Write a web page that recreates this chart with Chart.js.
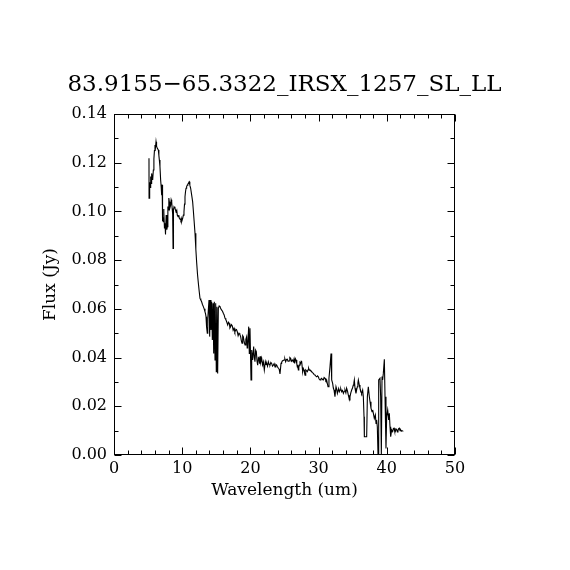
<!DOCTYPE html>
<html>
<head>
<meta charset="utf-8">
<title>83.9155-65.3322_IRSX_1257_SL_LL</title>
<script src="https://cdn.jsdelivr.net/npm/chart.js@4"></script>
<style>
    body { margin: 0; background: #fff; }
</style>
</head>
<body>
<canvas id="spectrum" width="570" height="570"></canvas>
<script>
// IRS spectrum (SL + LL) — flux vs wavelength

const titleText = '83.9155\u221265.3322_IRSX_1257_SL_LL';
const xLabel = 'Wavelength (um)';
const yLabel = 'Flux (Jy)';

const xTickValues = [0, 10, 20, 30, 40, 50];
const yTickValues = [0, 0.02, 0.04, 0.06, 0.08, 0.10, 0.12, 0.14];

// wavelength (um)
const wavelength = [
    5.13, 5.14, 5.20, 5.26, 5.32, 5.38, 5.45, 5.52, 5.60, 5.67,
    5.77, 5.85, 5.93, 6.01, 6.08, 6.16, 6.24, 6.35, 6.50, 6.58,
    6.65, 6.74, 6.84, 6.92, 6.99, 7.06, 7.10, 7.14, 7.23, 7.28,
    7.33, 7.40, 7.48, 7.53, 7.58, 7.65, 7.72, 7.77, 7.82, 7.90,
    7.97, 8.04, 8.11, 8.20, 8.31, 8.38, 8.46, 8.53, 8.60, 8.66,
    8.72, 8.80, 8.94, 9.09, 9.20, 9.28, 9.40, 9.50, 9.58, 9.68,
    9.77, 9.85, 9.92, 10.07, 10.17, 10.26, 10.34, 10.41, 10.48, 10.56,
    10.65, 10.75, 10.83, 10.90, 10.97, 11.04, 11.10, 11.14, 11.24, 11.39,
    11.53, 11.63, 11.75, 11.88, 12.00, 12.12, 12.25, 12.37, 12.50, 12.61,
    12.73, 12.85, 12.97, 13.10, 13.22, 13.34, 13.42, 13.49, 13.55, 13.59,
    13.68, 13.75, 13.83, 13.93, 14.03, 14.12, 14.22, 14.32, 14.42, 14.52,
    14.62, 14.71, 14.81, 14.91, 15.00, 15.10, 15.20, 15.30, 15.42, 15.54,
    15.66, 15.79, 15.91, 16.03, 16.15, 16.28, 16.40, 16.52, 16.67, 16.79,
    16.91, 17.00, 17.10, 17.22, 17.35, 17.47, 17.60, 17.72, 17.84, 17.96,
    18.08, 18.20, 18.33, 18.45, 18.57, 18.67, 18.77, 18.87, 18.96, 19.08,
    19.21, 19.33, 19.45, 19.53, 19.60, 19.75, 19.84, 19.94, 20.09, 20.19,
    20.33, 20.48, 20.58, 20.67, 20.77, 20.87, 20.97, 21.07, 21.17, 21.26,
    21.35, 21.41, 21.50, 21.65, 21.78, 21.90, 22.04, 22.19, 22.29, 22.39,
    22.51, 22.63, 22.75, 22.87, 23.00, 23.12, 23.24, 23.36, 23.48, 23.61,
    23.73, 23.85, 23.97, 24.10, 24.22, 24.34, 24.49, 24.58, 24.68, 24.80,
    24.93, 25.05, 25.17, 25.29, 25.41, 25.53, 25.66, 25.78, 25.90, 26.02,
    26.15, 26.29, 26.40, 26.49, 26.60, 26.69, 26.80, 26.88, 26.95, 27.03,
    27.10, 27.17, 27.27, 27.37, 27.45, 27.52, 27.60, 27.66, 27.76, 27.86,
    27.93, 28.01, 28.08, 28.15, 28.25, 28.35, 28.45, 28.54, 28.64, 28.74,
    28.86, 28.98, 29.10, 29.23, 29.35, 29.47, 29.60, 29.72, 29.84, 29.96,
    30.08, 30.21, 30.33, 30.45, 30.57, 30.69, 30.81, 30.94, 31.06, 31.18,
    31.38, 31.52, 31.67, 31.82, 31.92, 32.06, 32.16, 32.26, 32.40, 32.55,
    32.65, 32.75, 32.94, 33.04, 33.14, 33.25, 33.38, 33.50, 33.63, 33.75,
    33.87, 34.00, 34.11, 34.24, 34.36, 34.45, 34.51, 34.60, 34.72, 34.85,
    34.97, 35.09, 35.17, 35.24, 35.34, 35.48, 35.58, 35.68, 35.76, 35.83,
    35.97, 36.07, 36.22, 36.31, 36.46, 36.56, 36.66, 36.71, 36.88, 37.05,
    37.15, 37.29, 37.44, 37.54, 37.68, 37.83, 37.93, 38.03, 38.17, 38.32,
    38.42, 38.51, 38.61, 38.71, 38.81, 39.00, 39.10, 39.20, 39.30, 39.39,
    39.49, 39.64, 39.74, 39.88, 39.98, 40.13, 40.27, 40.37, 40.47, 40.57,
    40.71, 40.86, 40.96, 41.06, 41.15, 41.25, 41.35, 41.45, 41.55, 41.64,
    41.74, 41.84, 41.94, 42.03, 42.13, 42.23, 42.42
];

// flux (Jy)
const flux = [
    0.1218, 0.1054, 0.1080, 0.1120, 0.1098, 0.1143, 0.1115, 0.1156, 0.1140, 0.1129,
    0.1170, 0.1215, 0.1250, 0.1273, 0.1262, 0.1286, 0.1268, 0.1259, 0.1252, 0.1230,
    0.1211, 0.1184, 0.1129, 0.1100, 0.1067, 0.1110, 0.0960, 0.0978, 0.0958, 0.1010,
    0.0999, 0.0930, 0.0951, 0.0905, 0.0910, 0.0985, 0.0978, 0.0925, 0.0937, 0.1020,
    0.1006, 0.1055, 0.1040, 0.1015, 0.1026, 0.1048, 0.1040, 0.1012, 0.0990, 0.0848,
    0.1005, 0.1019, 0.1013, 0.0999, 0.1005, 0.0985, 0.0978, 0.0985, 0.0972, 0.0968,
    0.0965, 0.0972, 0.0958, 0.0972, 0.0985, 0.0999, 0.1030, 0.1060, 0.1080, 0.1095,
    0.1102, 0.1108, 0.1112, 0.1115, 0.1120, 0.1122, 0.1112, 0.1108, 0.1095, 0.1067,
    0.1040, 0.1005, 0.0960, 0.0910, 0.0845, 0.0790, 0.0740, 0.0705, 0.0670, 0.0643,
    0.0636, 0.0629, 0.0618, 0.0609, 0.0600, 0.0588, 0.0580, 0.0568, 0.0545, 0.0527,
    0.0500, 0.0560, 0.0595, 0.0636, 0.0486, 0.0636, 0.0513, 0.0629, 0.0472, 0.0623,
    0.0417, 0.0629, 0.0390, 0.0623, 0.0342, 0.0609, 0.0335, 0.0602, 0.0612, 0.0609,
    0.0600, 0.0595, 0.0590, 0.0582, 0.0575, 0.0561, 0.0556, 0.0547, 0.0534, 0.0545,
    0.0540, 0.0522, 0.0527, 0.0535, 0.0530, 0.0512, 0.0520, 0.0505, 0.0513, 0.0515,
    0.0506, 0.0490, 0.0500, 0.0495, 0.0486, 0.0470, 0.0459, 0.0490, 0.0486, 0.0465,
    0.0452, 0.0475, 0.0486, 0.0440, 0.0445, 0.0527, 0.0417, 0.0520, 0.0308, 0.0431,
    0.0390, 0.0445, 0.0400, 0.0383, 0.0430, 0.0424, 0.0385, 0.0369, 0.0400, 0.0397,
    0.0375, 0.0405, 0.0380, 0.0397, 0.0370, 0.0383, 0.0349, 0.0383, 0.0372, 0.0376,
    0.0365, 0.0383, 0.0372, 0.0369, 0.0380, 0.0376, 0.0365, 0.0369, 0.0375, 0.0362,
    0.0372, 0.0369, 0.0362, 0.0356, 0.0352, 0.0333, 0.0376, 0.0380, 0.0386, 0.0388,
    0.0390, 0.0395, 0.0383, 0.0392, 0.0393, 0.0385, 0.0386, 0.0400, 0.0397, 0.0385,
    0.0390, 0.0383, 0.0395, 0.0376, 0.0395, 0.0390, 0.0375, 0.0362, 0.0370, 0.0349,
    0.0360, 0.0369, 0.0380, 0.0376, 0.0385, 0.0383, 0.0360, 0.0342, 0.0355, 0.0349,
    0.0338, 0.0328, 0.0342, 0.0349, 0.0345, 0.0342, 0.0350, 0.0356, 0.0348, 0.0349,
    0.0345, 0.0342, 0.0338, 0.0335, 0.0330, 0.0328, 0.0324, 0.0321, 0.0325, 0.0321,
    0.0312, 0.0308, 0.0312, 0.0315, 0.0310, 0.0308, 0.0318, 0.0315, 0.0305, 0.0308,
    0.0280, 0.0315, 0.0362, 0.0417, 0.0308, 0.0294, 0.0275, 0.0267, 0.0239, 0.0280,
    0.0270, 0.0253, 0.0273, 0.0260, 0.0267, 0.0272, 0.0260, 0.0265, 0.0253, 0.0262,
    0.0267, 0.0255, 0.0274, 0.0262, 0.0246, 0.0235, 0.0226, 0.0239, 0.0255, 0.0267,
    0.0275, 0.0287, 0.0295, 0.0308, 0.0274, 0.0253, 0.0268, 0.0280, 0.0295, 0.0308,
    0.0287, 0.0274, 0.0260, 0.0253, 0.0267, 0.0239, 0.0157, 0.0075, 0.0075, 0.0075,
    0.0239, 0.0280, 0.0239, 0.0219, 0.0192, 0.0178, 0.0185, 0.0171, 0.0150, 0.0164,
    0.0130, 0.0144, 0.0116, 0.0004, 0.0308, 0.0315, 0.0239, 0.0004, 0.0322, 0.0308,
    0.0335, 0.0393, 0.0239, 0.0027, 0.0157, 0.0185, 0.0144, 0.0171, 0.0116, 0.0075,
    0.0103, 0.0096, 0.0108, 0.0110, 0.0098, 0.0096, 0.0107, 0.0105, 0.0095, 0.0100,
    0.0108, 0.0110, 0.0100, 0.0103, 0.0098, 0.0100, 0.0097
];

const FONT = '"DejaVu Serif", "Liberation Serif", serif';

const points = wavelength.map((w, i) => ({ x: w, y: flux[i] }));

// Box around the plot, inward ticks on all four sides, and the title
const framePlugin = {
    id: 'idlFrame',
    afterDraw(chart) {
        const ctx = chart.ctx;
        const area = chart.chartArea;
        const xs = chart.scales.x;
        const ys = chart.scales.y;
        const majorLen = 7;
        const minorLen = 4;

        ctx.save();
        ctx.strokeStyle = '#000';
        ctx.lineWidth = 1;

        const L = Math.round(area.left) + 0.5;
        const R = Math.round(area.right) - 0.5;
        const T = Math.round(area.top) + 0.5;
        const B = Math.round(area.bottom) - 0.5;
        ctx.strokeRect(L, T, R - L, B - T);

        ctx.beginPath();
        // x ticks (bottom and top)
        for (let v = 0; v <= 50.001; v += 2) {
            const len = (Math.abs(v % 10) < 1e-6) ? majorLen : minorLen;
            const px = Math.round(xs.getPixelForValue(v)) + 0.5;
            ctx.moveTo(px, B); ctx.lineTo(px, B - len);
            ctx.moveTo(px, T); ctx.lineTo(px, T + len);
        }
        // y ticks (left and right)
        for (let k = 0; k <= 14; k++) {
            const v = k * 0.01;
            const len = (k % 2 === 0) ? majorLen : minorLen;
            const py = Math.round(ys.getPixelForValue(v)) + 0.5;
            ctx.moveTo(L, py); ctx.lineTo(L + len, py);
            ctx.moveTo(R, py); ctx.lineTo(R - len, py);
        }
        ctx.stroke();

        // title
        ctx.fillStyle = '#000';
        ctx.font = '23px ' + FONT;
        ctx.textAlign = 'center';
        ctx.textBaseline = 'alphabetic';
        ctx.fillText(titleText, (area.left + area.right) / 2, 91);
        ctx.restore();
    }
};

const ctx = document.getElementById('spectrum').getContext('2d');

new Chart(ctx, {
    type: 'line',
    data: {
        datasets: [{
            data: points,
            borderColor: '#000',
            borderWidth: 1.1,
            pointRadius: 0,
            tension: 0,
            fill: false
        }]
    },
    options: {
        responsive: false,
        animation: false,
        layout: {
            padding: { top: 114, right: 115, bottom: 0, left: 0 }
        },
        plugins: {
            legend: { display: false },
            tooltip: { enabled: false },
            title: { display: false }
        },
        scales: {
            x: {
                type: 'linear',
                min: 0,
                max: 50,
                afterFit: function(scale) { scale.height = 115; },
                afterBuildTicks: function(scale) {
                    scale.ticks = xTickValues.map(v => ({ value: v }));
                },
                grid: { display: false, drawTicks: false },
                border: { display: false },
                ticks: {
                    color: '#000',
                    font: { family: FONT, size: 16 },
                    padding: 4,
                    maxRotation: 0,
                    autoSkip: false,
                    callback: function(value) { return String(value); }
                },
                title: {
                    display: true,
                    text: xLabel,
                    color: '#000',
                    font: { family: FONT, size: 17 },
                    padding: { top: 0, bottom: 69 }
                }
            },
            y: {
                type: 'linear',
                min: 0,
                max: 0.14,
                afterFit: function(scale) { scale.width = 114; },
                afterBuildTicks: function(scale) {
                    scale.ticks = yTickValues.map(v => ({ value: v }));
                },
                grid: { display: false, drawTicks: false },
                border: { display: false },
                ticks: {
                    color: '#000',
                    font: { family: FONT, size: 16 },
                    padding: 7,
                    autoSkip: false,
                    callback: function(value) { return value.toFixed(2); }
                },
                title: {
                    display: true,
                    text: yLabel,
                    color: '#000',
                    font: { family: FONT, size: 17 },
                    padding: { top: 40.8, bottom: 0 }
                }
            }
        }
    },
    plugins: [framePlugin]
});
</script>
</body>
</html>
